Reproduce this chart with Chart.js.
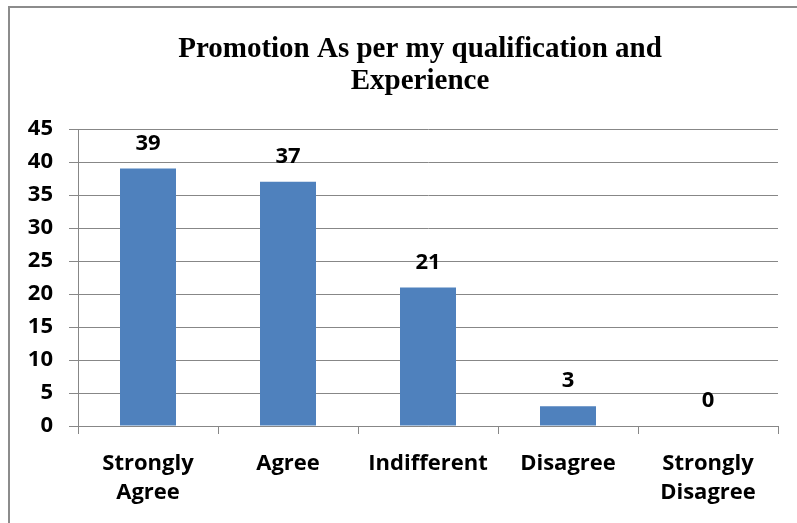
<!DOCTYPE html>
<html>
<head>
<meta charset="utf-8">
<script src="https://cdn.jsdelivr.net/npm/chart.js@4"></script>
<style>
  html, body { margin: 0; padding: 0; background: #fff; }
  #wrap { width: 797px; height: 523px; position: relative; }
</style>
</head>
<body>
<div id="wrap"><canvas id="promoChart" width="797" height="523"></canvas></div>
<script>
// chart data
const categories = [['Strongly', 'Agree'], 'Agree', 'Indifferent', 'Disagree', ['Strongly', 'Disagree']];
const responses = [39, 37, 21, 3, 0];
const titleLines = ['Promotion As per my qualification and', 'Experience'];

const labelFont = { family: "'Open Sans', sans-serif", size: 22, weight: 'bold' };

// outer frame (only top + left visible in the reference) and the title,
// which sits a bit right of the canvas centre in the original
const framePlugin = {
    id: 'frame',
    beforeDraw(chart) {
        const c = chart.ctx;
        c.save();
        c.fillStyle = '#fff';
        c.fillRect(0, 0, chart.width, chart.height);
        c.strokeStyle = '#8c8c8c';
        c.lineWidth = 2;
        c.strokeRect(9, 7, chart.width + 20, chart.height + 20);
        c.restore();
    },
    afterDraw(chart) {
        const c = chart.ctx;
        c.save();
        c.font = "bold 29px 'Liberation Serif', 'Times New Roman', serif";
        c.fillStyle = '#000';
        c.textAlign = 'center';
        c.textBaseline = 'alphabetic';
        const cx = 420;
        titleLines.forEach((line, i) => c.fillText(line, cx, 57 + i * 32));
        c.restore();
    }
};

// value labels above the bars
const valueLabels = {
    id: 'valueLabels',
    afterDatasetsDraw(chart) {
        const c = chart.ctx;
        const meta = chart.getDatasetMeta(0);
        c.save();
        c.font = `bold ${labelFont.size}px ${labelFont.family}`;
        c.fillStyle = '#000';
        c.textAlign = 'center';
        c.textBaseline = 'middle';
        meta.data.forEach((bar, i) => {
            c.fillText(String(responses[i]), bar.x, bar.y - 25);
        });
        c.restore();
    }
};

new Chart(document.getElementById('promoChart').getContext('2d'), {
    type: 'bar',
    data: {
        labels: categories,
        datasets: [{
            data: responses,
            backgroundColor: '#4f81bd',
            borderWidth: 0,
            categoryPercentage: 1,
            barPercentage: 0.4
        }]
    },
    options: {
        responsive: false,
        animation: false,
        layout: { padding: { left: 0, right: 19, top: 129, bottom: 0 } },
        plugins: {
            legend: { display: false },
            tooltip: { enabled: false },
            title: { display: false }
        },
        scales: {
            y: {
                min: 0,
                max: 45,
                ticks: { stepSize: 5, color: '#000', font: labelFont, padding: 16 },
                grid: { color: '#878787', lineWidth: 1, tickLength: 9 },
                border: { color: '#878787', width: 1 },
                afterFit(scale) { scale.width = 78; }
            },
            x: {
                ticks: { color: '#000', font: { ...labelFont, lineHeight: 1.32 }, padding: 15, maxRotation: 0, autoSkip: false },
                grid: { offset: true, drawOnChartArea: false, color: '#878787', tickLength: 8 },
                border: { color: '#878787', width: 1 },
                afterFit(scale) { scale.height = 97; }
            }
        }
    },
    plugins: [framePlugin, valueLabels]
});
</script>
</body>
</html>
